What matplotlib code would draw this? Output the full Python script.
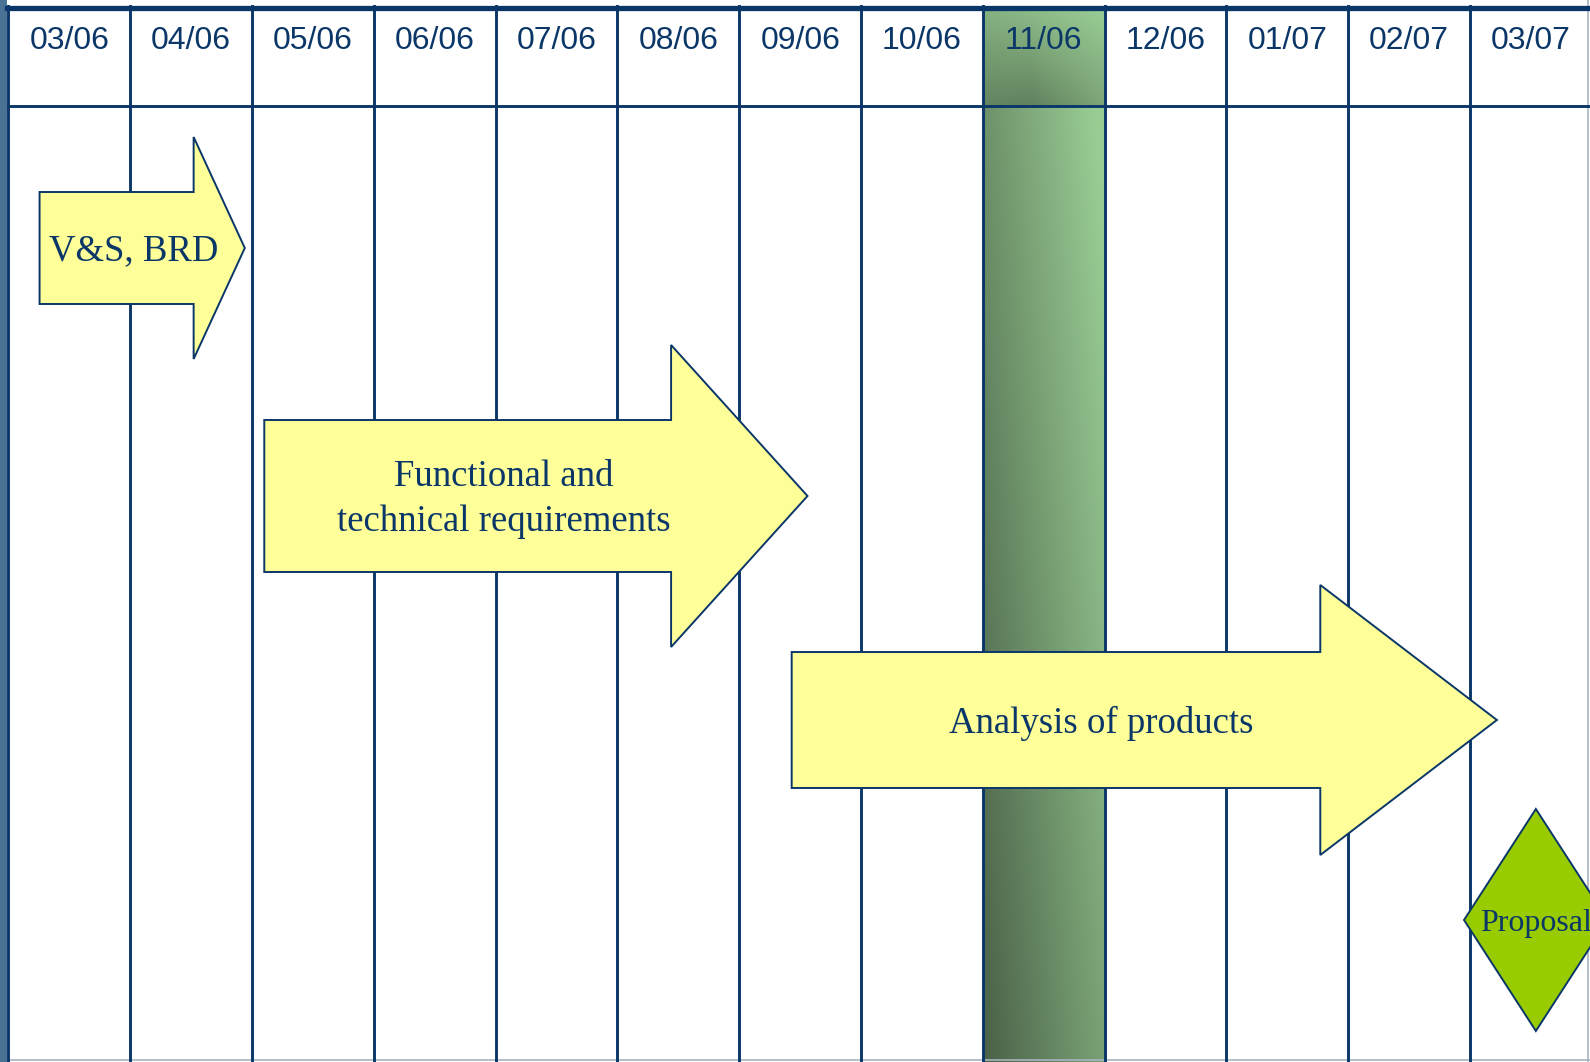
import numpy as np
import matplotlib.pyplot as plt
from matplotlib.patches import Polygon

# timeline columns
months = ['03/06', '04/06', '05/06', '06/06', '07/06', '08/06', '09/06',
          '10/06', '11/06', '12/06', '01/07', '02/07', '03/07']
highlight = '11/06'

# tasks: start and arrow tip, in months from 03/06
task_labels = ['V&S, BRD', 'Functional and\ntechnical requirements', 'Analysis of products']
task_start = [0.255, 2.10, 6.43]
task_end = [1.94, 6.56, 12.22]

milestone_label = 'Proposal'
milestone_month = 12.54

# layout (y in pixels from the top)
W, H = 1590, 1062
col_px = 121.8
x0_px = 8.5
row_y = [248, 496, 720]
body_half = [56, 76, 68]
head_half = [111, 151, 135]
head_len = [0.42, 1.12, 1.45]
ms_y, ms_half_h, ms_half_w = 920, 111, 0.59
header_bottom = 106

navy = '#0b3768'
yellow = '#ffff99'
ms_green = '#99cc00'

fig = plt.figure(figsize=(W / 100, H / 100), dpi=100)
ax = fig.add_axes([0, 0, 1, 1])
ax.set_xlim(-x0_px / col_px, (W - x0_px) / col_px)
ax.set_ylim(H, 0)
ax.axis('off')

# highlighted month column with gradient
hi = months.index(highlight)
light = np.array([0.60, 0.80, 0.58])
dark = np.array([0.29, 0.38, 0.28])
gx, gy = np.meshgrid(np.linspace(0, 1, 60), np.linspace(0, 1, 200))
t = np.clip(0.6 * gx + 0.45 * (1 - gy), 0, 1)
body = dark + (light - dark) * t[..., None]
ax.imshow(body, extent=(hi, hi + 1, H, header_bottom), aspect='auto', zorder=1,
          interpolation='bilinear')
hx, hy = np.meshgrid(np.linspace(0, 1, 60), np.linspace(0, 1, 60))
th = np.clip(0.75 - 0.55 * hy * (1 - 0.6 * np.abs(hx - 0.4)) + 0.25 * hx, 0, 1)
head = dark + (light - dark) * th[..., None]
ax.imshow(head, extent=(hi, hi + 1, header_bottom, 9), aspect='auto', zorder=1,
          interpolation='bilinear')

# left steel bar
ax.axvspan(-x0_px / col_px, -1 / col_px, color='#4a7294', zorder=2, lw=0)

# grid
for i in range(len(months) + 1):
    ax.plot([i, i], [6, H], color=navy, lw=2.1, zorder=3)
ax.plot([-1 / col_px, 14], [7.5, 7.5], color=navy, lw=3.8, zorder=3)
ax.plot([0, 14], [header_bottom, header_bottom], color=navy, lw=2.1, zorder=3)
ax.plot([(W - 2 - x0_px) / col_px] * 2, [0, H], color='#a8b4c0', lw=1.2, zorder=2)
ax.plot([0, 14], [H - 2, H - 2], color='#a8b4c0', lw=1.2, zorder=2)

for i, m in enumerate(months):
    ax.text(i + 0.5, 41, m, ha='center', va='center', fontsize=23,
            family='Liberation Sans', color=navy, zorder=4)

# task arrows
for lab, s, e, y, bh, hh, hl in zip(task_labels, task_start, task_end, row_y,
                                     body_half, head_half, head_len):
    b = e - hl
    pts = [(s, y - bh), (b, y - bh), (b, y - hh), (e, y), (b, y + hh),
           (b, y + bh), (s, y + bh)]
    ax.add_patch(Polygon(pts, closed=True, fc=yellow, ec=navy, lw=1.4, zorder=5))
    ax.text(s + 0.43 * (e - s) + 0.05, y + 3, lab, ha='center', va='center',
            fontsize=26.5, family='Liberation Serif', color=navy, zorder=6,
            linespacing=1.4)

# milestone
c = milestone_month
ax.add_patch(Polygon([(c, ms_y - ms_half_h), (c + ms_half_w, ms_y),
                      (c, ms_y + ms_half_h), (c - ms_half_w, ms_y)],
                     closed=True, fc=ms_green, ec=navy, lw=1.4, zorder=5))
ax.text(c, ms_y + 3, milestone_label, ha='center', va='center', fontsize=23,
        family='Liberation Serif', color=navy, zorder=6)

fig.savefig('out.png', dpi=100)
